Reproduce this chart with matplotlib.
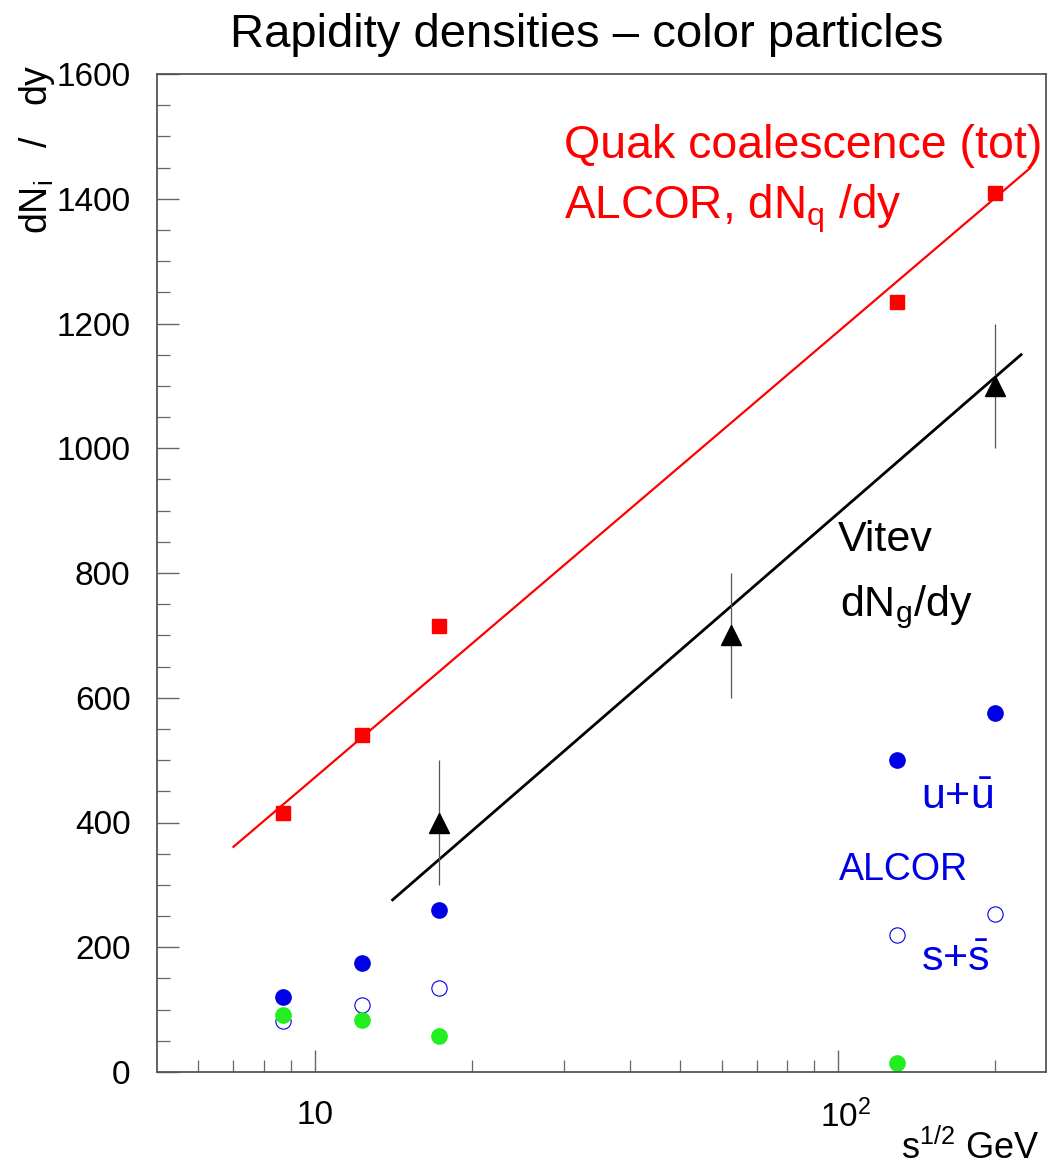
import matplotlib
matplotlib.use("Agg")
import matplotlib.pyplot as plt
from matplotlib.ticker import FixedLocator, NullFormatter, MultipleLocator
from matplotlib.transforms import ScaledTranslation

plt.rcParams['font.family'] = ['Liberation Sans', 'DejaVu Sans']
plt.rcParams['mathtext.fontset'] = 'custom'
plt.rcParams['mathtext.rm'] = 'Liberation Sans'
plt.rcParams['mathtext.it'] = 'Liberation Sans'

# ---- data ----
sqrt_s = [8.7, 12.3, 17.3, 130, 200]
alcor_total = [415, 540, 715, 1235, 1410]
alcor_u = [120, 175, 260, 500, 575]
alcor_s = [82, 107, 135, 220, 253]
green_x = [8.7, 12.3, 17.3, 130]
green_y = [92, 83, 58, 15]
vitev_x = [17.3, 62.4, 200]
vitev_y = [400, 700, 1100]
vitev_err = [100, 100, 100]
red_fit_x = [7.0, 233]
red_fit_y = [361, 1449]
black_fit_x = [14.1, 224]
black_fit_y = [276, 1150]
x_major = [10, 100]
x_major_labels = ['10', r'$10^{2}$']
x_minor = [6, 7, 8, 9, 20, 30, 40, 50, 60, 70, 80, 90, 200]

RED = '#ff0000'
BLUE = '#0000e6'
GREEN = '#22ee22'

fig = plt.figure(figsize=(10.5, 11.73), dpi=100)
ax = fig.add_axes([157/1050, 1-1072/1173, (1046-157)/1050, (1072-74)/1173])

ax.set_xscale('log')
ax.set_xlim(5, 250)
ax.set_ylim(0, 1600)

ax.plot(red_fit_x, red_fit_y, color=RED, lw=1.6)
ax.plot(black_fit_x, black_fit_y, color='black', lw=2.0)

ax.plot(sqrt_s, alcor_total, 's', color=RED, ms=10, mec=RED)
ax.errorbar(vitev_x, vitev_y, yerr=vitev_err, fmt='^', color='black',
            ms=14, ecolor='#555555', elinewidth=0.9, capsize=0)
ax.plot(sqrt_s, alcor_u, 'o', color=BLUE, ms=11, mec=BLUE)
ax.plot(sqrt_s, alcor_s, 'o', mfc='none', mec=BLUE, ms=11, mew=0.8)
ax.plot(green_x, green_y, 'o', color=GREEN, ms=11, mec=GREEN)

# ticks
ax.xaxis.set_major_locator(FixedLocator(x_major))
ax.set_xticklabels(x_major_labels)
ax.xaxis.set_minor_locator(FixedLocator(x_minor))
ax.xaxis.set_minor_formatter(NullFormatter())
ax.yaxis.set_major_locator(MultipleLocator(200))
ax.yaxis.set_minor_locator(MultipleLocator(50))
ax.tick_params(axis='both', which='both', direction='in', top=False, right=False,
               color='#666666')
ax.tick_params(axis='both', which='major', length=16, width=1.0, labelsize=24)
ax.tick_params(axis='both', which='minor', length=9, width=0.9)
ax.tick_params(axis='y', which='major', pad=19)
ax.tick_params(axis='x', which='major', pad=20)
for sp in ax.spines.values():
    sp.set_color('#555555')
    sp.set_linewidth(1.3)

# shift the 10^2 label so its base "10" sits centred on the tick
lab = ax.get_xticklabels()[1]
lab.set_transform(lab.get_transform() + ScaledTranslation(8/100, 0, fig.dpi_scale_trans))

# labels
fig.text(587/1050, 1-35/1173, 'Rapidity densities \u2013 color particles',
         ha='center', va='center', fontsize=34)
fig.text(1040/1050, 1-1148/1173, r'$\mathregular{s^{1/2}}$ GeV', ha='right', va='center', fontsize=26)
fig.text(37/1050, 1-64/1173, r'dN$_\mathregular{i}$   /   dy', ha='center', va='top',
         rotation=90, fontsize=27)

fig.text(564/1050, 1-146/1173, 'Quak coalescence (tot)', color=RED, fontsize=33.5,
         ha='left', va='center')
fig.text(564/1050, 1-209/1173, r'ALCOR, dN$_\mathregular{q}$ /dy', color=RED, fontsize=33,
         ha='left', va='center')
fig.text(838/1050, 1-540/1173, 'Vitev', color='black', fontsize=31,
         ha='left', va='center')
fig.text(840/1050, 1-607/1173, r'dN$_\mathregular{g}$/dy', color='black', fontsize=31,
         ha='left', va='center')
fig.text(957/1050, 1-798/1173, r'u+$\mathregular{\bar{u}}$', color=BLUE, fontsize=31,
         ha='center', va='center')
fig.text(968/1050, 1-870/1173, 'ALCOR', color=BLUE, fontsize=27,
         ha='right', va='center')
fig.text(955/1050, 1-960/1173, r's+$\mathregular{\bar{s}}$', color=BLUE, fontsize=31,
         ha='center', va='center')

fig.savefig('out.png', dpi=100)
